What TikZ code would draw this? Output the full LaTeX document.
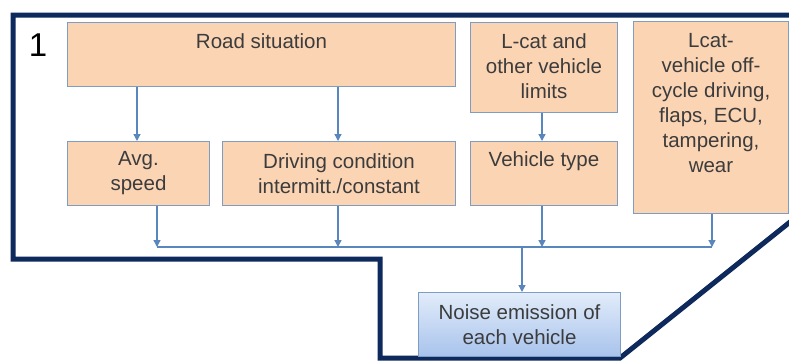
\documentclass[tikz,border=0pt]{standalone}
\usepackage{fontspec}
\setmainfont{Liberation Sans}
\usetikzlibrary{arrows.meta}
\definecolor{peach}{HTML}{FBD4B4}
\definecolor{boxline}{HTML}{7F9DC3}
\definecolor{arr}{HTML}{5A86BE}
\definecolor{navy}{HTML}{0E2A5C}
\definecolor{txt}{HTML}{3C3C3C}
\definecolor{blueT}{HTML}{E2ECFA}
\definecolor{blueB}{HTML}{A8C3EC}
\tikzset{
  box/.style={draw=boxline, line width=1pt, fill=peach, anchor=north west, inner sep=0pt, text=txt, align=center, font=\fontsize{20.5}{25}\selectfont},
  lab/.style={text=txt, font=\fontsize{20.5}{25}\selectfont, anchor=north, align=center, inner sep=0pt},
  flow/.style={draw=arr, line width=1.3pt, -{Triangle[width=7pt,length=7pt]}},
  bus/.style={draw=arr, line width=1.3pt}
}
\begin{document}
\begin{tikzpicture}[x=1pt,y=-1pt]
\useasboundingbox (0,0) rectangle (789,360);
\fill[white] (0,0) rectangle (789,360);
\begin{scope}
\clip (0,0) rectangle (789,360);
\draw[navy, line width=5pt, line join=miter] (13,15) -- (800,15) -- (800,214) -- (620,358) -- (380,358) -- (380,259) -- (13,259) -- cycle;
\end{scope}
\node[font=\fontsize{33}{36}\selectfont] (num) at (38,45) {1};
% boxes
\node[box, minimum width=388pt, minimum height=64pt] (road) at (67,22) {};
\node[lab] (roadt) at ([yshift=-11pt]road.north) {Road situation};
\node[box, minimum width=142pt, minimum height=64pt] (avg) at (67,141) {Avg.\\speed};
\node[box, minimum width=233pt, minimum height=64pt] (drv) at (222,141) {Driving condition\\intermitt./constant};
\node[box, minimum width=147pt, minimum height=90pt] (lim) at (470,22) {};
\node[lab] (limt) at ([yshift=-11pt]lim.north) {L-cat and\\other vehicle\\limits};
\node[box, minimum width=147pt, minimum height=64pt] (vt) at (470,141) {};
\node[lab] (vtt) at ([yshift=-10pt]vt.north) {Vehicle type};
\node[box, minimum width=155pt, minimum height=192pt] (lcat) at (633,21) {};
\node[lab] (lcatt) at ([yshift=-12pt]lcat.north) {Lcat-\\vehicle off-\\cycle driving,\\flaps, ECU,\\tampering,\\wear};
\node[box, fill=none, top color=blueT, bottom color=blueB, minimum width=202pt, minimum height=64pt] (noise) at (418,292) {Noise emission of\\each vehicle};
% arrows
\draw[flow] (road.south -| 137,0) -- (avg.north -| 137,0);
\draw[flow] (road.south -| 338,0) -- (drv.north -| 338,0);
\draw[flow] (lim.south -| 542,0) -- (vt.north -| 542,0);
\coordinate (bl) at (157,247);
\coordinate (br) at (712,247);
\coordinate (bm) at (522,247);
\draw[bus] (bl) -- (br);
\draw[flow] (avg.south -| bl) -- (bl);
\draw[flow] (drv.south -| 338,0) -- (bl -| 338,0);
\draw[flow] (vt.south -| 542,0) -- (bl -| 542,0);
\draw[flow] (lcat.south -| br) -- (br);
\draw[flow] (bm) -- (noise.north -| bm);
\end{tikzpicture}
\end{document}
